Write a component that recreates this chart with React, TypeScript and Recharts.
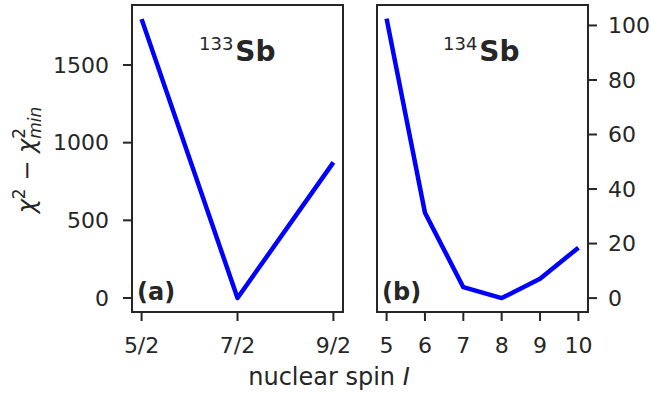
import React from 'react'
import { LineChart, Line, XAxis, YAxis, ReferenceArea, Customized } from 'recharts'

// spin values and chi^2 - chi^2_min
const spin133 = [2.5, 3.5, 4.5]
const spin133Labels = ['5/2', '7/2', '9/2']
const chi133 = [1795, 0, 873]
const yTicks133 = [0, 500, 1000, 1500]

const spin134 = [5, 6, 7, 8, 9, 10]
const chi134 = [102.5, 31.3, 4.0, 0, 7.1, 18.5]
const yTicks134 = [0, 20, 40, 60, 80, 100]

const INK = '#262626'
const FONT = 'DejaVu Sans'
const W = 651
const H = 396

const data133 = spin133.map((s, i) => ({ spin: s, chi: chi133[i] }))
const data134 = spin134.map((s, i) => ({ spin: s, chi: chi134[i] }))

const tickStyle = { fill: INK, fontSize: 22, fontFamily: FONT }

const LeftTexts = () => (
  <g fontFamily={FONT} fill={INK}>
    <text x={199} y={61}>
      <tspan fontSize={18} dy={-11}>133</tspan>
      <tspan fontSize={28} fontWeight="bold" dx={2} dy={11}>Sb</tspan>
    </text>
    <text x={137} y={300} fontSize={24} fontWeight="bold">(a)</text>
    <text x={35} y={160} fontSize={24} textAnchor="middle" transform="rotate(-90 35 160)">
      <tspan fontStyle="italic">χ</tspan>
      <tspan fontSize={17} dy={-10}>2</tspan>
      <tspan dy={10}> − </tspan>
      <tspan fontStyle="italic">χ</tspan>
      <tspan fontSize={17} dy={-10}>2</tspan>
      <tspan fontSize={17} fontStyle="italic" dx={-10.8} dy={16}>min</tspan>
    </text>
    <text x={329} y={385} fontSize={24} textAnchor="middle">
      nuclear spin <tspan fontStyle="italic">I</tspan>
    </text>
  </g>
)

const RightTexts = () => (
  <g fontFamily={FONT} fill={INK}>
    <text x={443} y={61}>
      <tspan fontSize={18} dy={-11}>134</tspan>
      <tspan fontSize={28} fontWeight="bold" dx={2} dy={11}>Sb</tspan>
    </text>
    <text x={382} y={300} fontSize={24} fontWeight="bold">(b)</text>
  </g>
)

export default function App() {
  return (
    <div style={{ position: 'absolute', left: 0, top: 0, width: W, height: H, background: '#fff' }}>
      <div style={{ position: 'absolute', left: 0, top: 0 }}>
        <LineChart width={W} height={H} data={data133}
          margin={{ top: 5, right: 308, left: 72, bottom: 54 }}>
          <XAxis dataKey="spin" type="number" domain={[2.4, 4.6]} ticks={spin133}
            tickFormatter={(v: number) => spin133Labels[spin133.indexOf(v)]}
            height={30} axisLine={false} tickSize={9} tickMargin={16}
            tickLine={{ stroke: INK, strokeWidth: 2 }} tick={tickStyle} />
          <YAxis type="number" domain={[-90, 1886]} ticks={yTicks133} width={60}
            axisLine={false} tickSize={9} tickMargin={14}
            tickLine={{ stroke: INK, strokeWidth: 2 }} tick={tickStyle} />
          <ReferenceArea x1={2.4} x2={4.6} y1={-90} y2={1886}
            fill="none" stroke={INK} strokeWidth={2} fillOpacity={0} />
          <Line dataKey="chi" stroke="#0000ff" strokeWidth={4.5} dot={false}
            strokeLinejoin="round" isAnimationActive={false} />
          <Customized component={<LeftTexts />} />
        </LineChart>
      </div>
      <div style={{ position: 'absolute', left: 0, top: 0 }}>
        <LineChart width={W} height={H} data={data134}
          margin={{ top: 5, right: 3, left: 377, bottom: 54 }}>
          <XAxis dataKey="spin" type="number" domain={[4.75, 10.25]} ticks={spin134}
            height={30} axisLine={false} tickSize={9} tickMargin={16}
            tickLine={{ stroke: INK, strokeWidth: 2 }} tick={tickStyle} />
          <YAxis orientation="right" type="number" domain={[-5.1, 107.5]} ticks={yTicks134}
            width={60} axisLine={false} tickSize={9} tickMargin={11}
            tickLine={{ stroke: INK, strokeWidth: 2 }} tick={{ ...tickStyle, textAnchor: 'start' }} />
          <ReferenceArea x1={4.75} x2={10.25} y1={-5.1} y2={107.5}
            fill="none" stroke={INK} strokeWidth={2} fillOpacity={0} />
          <Line dataKey="chi" stroke="#0000ff" strokeWidth={4.5} dot={false}
            strokeLinejoin="round" isAnimationActive={false} />
          <Customized component={<RightTexts />} />
        </LineChart>
      </div>
    </div>
  )
}
